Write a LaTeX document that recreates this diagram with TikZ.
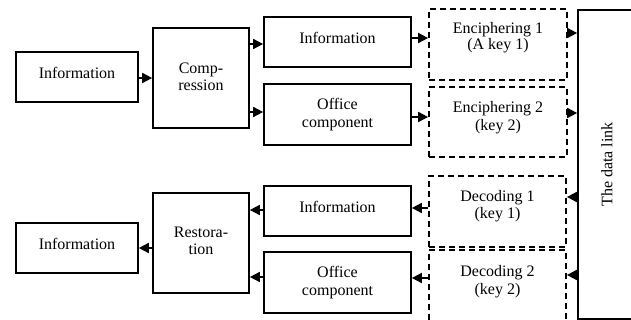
\documentclass[tikz,border=0pt]{standalone}
\usepackage{fontspec}
\setmainfont{Liberation Serif}
\usetikzlibrary{arrows.meta}
\begin{document}
\begin{tikzpicture}[x=1pt,y=-1pt,
  box/.style={draw,line width=1.7pt,inner sep=0pt},
  dbox/.style={draw,line width=1.7pt,dash pattern=on 6pt off 4pt,inner sep=0pt},
  txt/.style={font=\fontsize{16}{17.5}\selectfont,align=center,inner sep=0pt},
  arr/.style={line width=1.7pt,-{Triangle[length=10pt,width=10pt]}}]
\useasboundingbox (0,0) rectangle (631,320);
\clip (0,0) rectangle (631,320);

% ---- encoding chain (top) ----
\node[box,minimum width=122pt,minimum height=50pt] (inA) at (77,77) {};
\node[box,minimum width=96pt,minimum height=100pt] (comp) at (201,78) {};
\node[box,minimum width=147pt,minimum height=50pt] (info1) at (337.5,42) {};
\node[box,minimum width=147pt,minimum height=61pt] (off1) at (337.5,114.5) {};
\node[dbox,minimum width=138pt,minimum height=71pt] (enc1) at (498,44.5) {};
\node[dbox,minimum width=138pt,minimum height=70pt] (enc2) at (498,122) {};

% ---- transmission channel ----
\node[box,minimum width=58pt,minimum height=309pt] (link) at (607,164.5) {};

% ---- decoding chain (bottom) ----
\node[dbox,minimum width=137pt,minimum height=71pt] (dec1) at (497.5,211.5) {};
\node[dbox,minimum width=137pt,minimum height=72pt] (dec2) at (497.5,286) {};
\node[box,minimum width=147pt,minimum height=50pt] (info2) at (337.5,211) {};
\node[box,minimum width=147pt,minimum height=61pt] (off2) at (337.5,282.5) {};
\node[box,minimum width=96pt,minimum height=100pt] (rest) at (201,243) {};
\node[box,minimum width=122pt,minimum height=50pt] (outA) at (77,248) {};

% ---- labels ----
\node[txt] (tinA) at ([yshift=4pt]inA.center) {Information};
\node[txt] (tcomp) at ([yshift=1pt]comp.center) {Comp-\\ression};
\node[txt] (tinfo1) at ([yshift=4pt]info1.center) {Information};
\node[txt] (toff1) at (off1.center) {Office\\component};
\node[txt,font=\fontsize{16}{16}\selectfont] (tenc1) at ([yshift=7pt]enc1.center) {Enciphering 1\\(A key 1)};
\node[txt] (tenc2) at ([yshift=4.5pt]enc2.center) {Enciphering 2\\(key 2)};
\node[txt,rotate=90] (tlink) at (link.center) {The data link};
\node[txt] (tdec1) at ([yshift=5.5pt]dec1.center) {Decoding 1\\(key 1)};
\node[txt] (tdec2) at ([yshift=4.5pt]dec2.center) {Decoding 2\\(key 2)};
\node[txt] (tinfo2) at ([yshift=4pt]info2.center) {Information};
\node[txt] (toff2) at (off2.center) {Office\\component};
\node[txt] (trest) at ([yshift=2pt]rest.center) {Restora-\\tion};
\node[txt] (toutA) at ([yshift=4pt]outA.center) {Information};

% ---- connectors ----
\draw[arr] (inA.east |- 0,78) -- (comp.west |- 0,78);
\draw[arr] (comp.east |- 0,44) -- (info1.west |- 0,44);
\draw[arr] (comp.east |- 0,112) -- (off1.west |- 0,112);
\draw[arr] (info1.east |- 0,38) -- (enc1.west |- 0,38);
\draw[arr] (off1.east |- 0,117) -- (enc2.west |- 0,117);
\draw[arr] (enc1.east |- 0,33) -- (link.west |- 0,33);
\draw[arr] (enc2.east |- 0,113) -- (link.west |- 0,113);

\draw[arr] (link.west |- 0,197) -- (dec1.east |- 0,197);
\draw[arr] (link.west |- 0,275) -- (dec2.east |- 0,275);
\draw[arr] (dec1.west |- 0,208) -- (info2.east |- 0,208);
\draw[arr] (dec2.west |- 0,278) -- (off2.east |- 0,278);
\draw[arr] (info2.west |- 0,210) -- (rest.east |- 0,210);
\draw[arr] (off2.west |- 0,277) -- (rest.east |- 0,277);
\draw[arr] (rest.west |- 0,248) -- (outA.east |- 0,248);
\end{tikzpicture}
\end{document}
